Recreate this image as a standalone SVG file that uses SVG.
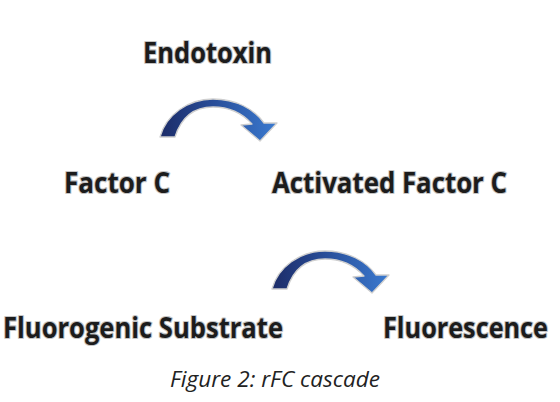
<svg xmlns="http://www.w3.org/2000/svg" width="560" height="402" viewBox="0 0 560 402">
<defs>
<linearGradient id="arrowGrad" gradientUnits="userSpaceOnUse" x1="160" y1="0" x2="277" y2="0">
<stop offset="0" stop-color="#1c2c68"/>
<stop offset="0.45" stop-color="#284d98"/>
<stop offset="1" stop-color="#3a7ad0"/>
</linearGradient>
<g id="curvedArrow">
<path d="M160,137 C166,115 188,99 213,99 C236,99 254,109 264,123 L277,123 L260,141 L241,125 L252,124 C243,114 230,107 213,107 C193,107 181,118 175,137 Z" fill="url(#arrowGrad)" stroke="#cfcfcf" stroke-width="1.3" stroke-linejoin="round"/>
</g>
</defs>
<style>
.lbl{font-family:"Open Sans","Noto Sans",sans-serif;font-weight:700;font-size:28px;fill:#1c1c1c;stroke:#c4c4c4;stroke-width:2.2px;paint-order:stroke;stroke-linejoin:round}
.cap{font-family:"Open Sans","Noto Sans",sans-serif;font-style:italic;font-size:22px;fill:#222}
</style>
<rect width="560" height="402" fill="#fff"/>
<g id="connectors">
<use href="#curvedArrow"/>
<use href="#curvedArrow" transform="translate(112,152)"/>
</g>
<g id="endotoxin"><text class="lbl" x="143" y="63" textLength="129" lengthAdjust="spacingAndGlyphs">Endotoxin</text></g>
<g id="factor-c"><text class="lbl" x="64" y="193" textLength="106" lengthAdjust="spacingAndGlyphs">Factor C</text></g>
<g id="activated-factor-c"><text class="lbl" x="272" y="193" textLength="235" lengthAdjust="spacingAndGlyphs">Activated Factor C</text></g>
<g id="fluorogenic-substrate"><text class="lbl" x="3" y="338" textLength="280" lengthAdjust="spacingAndGlyphs">Fluorogenic Substrate</text></g>
<g id="fluorescence"><text class="lbl" x="383" y="338" textLength="165" lengthAdjust="spacingAndGlyphs">Fluorescence</text></g>
<text class="cap" x="170" y="387" textLength="210" lengthAdjust="spacingAndGlyphs">Figure 2: rFC cascade</text>
</svg>
